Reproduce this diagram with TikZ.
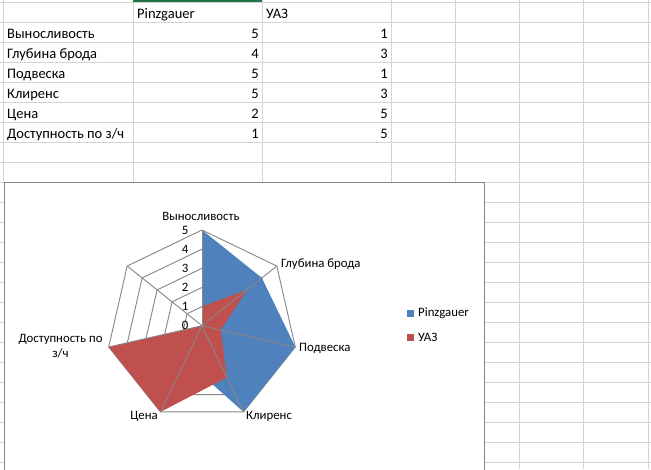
\documentclass[tikz,border=0pt]{standalone}
\usepackage{fontspec}
\setmainfont{Carlito}
\definecolor{gridgray}{RGB}{212,212,212}
\definecolor{axgray}{RGB}{134,134,134}
\definecolor{xlgreen}{RGB}{33,115,70}
\definecolor{pinz}{RGB}{79,129,189}
\definecolor{uaz}{RGB}{192,80,77}
\begin{document}
\begin{tikzpicture}[x=1pt,y=-1pt,
	sheet/.style={draw=gridgray,line width=0.8pt},
	cell/.style={inner sep=0pt,font=\fontsize{14.5}{17}\selectfont},
	lbl/.style={inner sep=0pt,font=\fontsize{12.8}{15}\selectfont},
	ax/.style={draw=axgray,line width=0.9pt}]
		\useasboundingbox (0,0) rectangle (651,469);
		\fill[white] (0,0) rectangle (651,469);
		%sheet grid
		\foreach \y in {2,22,...,182} \draw[sheet] (0,\y) -- (651,\y);
		\foreach \y in {202,222,...,462} {\draw[sheet] (0,\y) -- (4,\y); \draw[sheet] (484,\y) -- (651,\y);}
		\foreach \x in {3,133,262,391,455} \draw[sheet] (\x,0) -- (\x,182);
		\foreach \x in {519,583,648} \draw[sheet] (\x,0) -- (\x,469);
		\draw[xlgreen,line width=2pt] (133,1) -- (262,1);
		%table
		\node[cell,anchor=base west] (hp) at (137,18) {Pinzgauer};
		\node[cell,anchor=base west] (hu) at (266,18) {УАЗ};
		\foreach \name/\p/\u [count=\i] in {Выносливость/5/1,Глубина брода/4/3,Подвеска/5/1,Клиренс/5/3,Цена/2/5,{Доступность по з/ч}/1/5} {
			\node[cell,anchor=base west] (r\i) at (7,18+20*\i) {\name};
			\node[cell,anchor=base east] (p\i) at (259,18+20*\i) {\p};
			\node[cell,anchor=base east] (u\i) at (388,18+20*\i) {\u};
		}
		%chart
		\draw[axgray,fill=white,line width=0.8pt] (4,182) rectangle (484,480);
		\begin{scope}[shift={(202,325.7)},x=19.14pt,y=19.14pt]
		\foreach \l in {1,...,5} \draw[ax] (90:\l) \foreach \k in {1,...,6} {-- ({90-\k*360/7}:\l)} -- cycle;
		\fill[pinz] (90:5) \foreach \v [count=\k] in {4,5,5,2,1,0} {-- ({90-\k*360/7}:\v)} -- cycle;
		\fill[uaz] (90:1) \foreach \v [count=\k] in {3,1,3,5,5,0} {-- ({90-\k*360/7}:\v)} -- cycle;
		\foreach \k in {0,...,6} \draw[ax] (0,0) -- ({90-\k*360/7}:5);
		\foreach \l in {0,...,5} \node[lbl,anchor=east] (t\l) at (-0.7,\l) {\l};
		\end{scope}
		\node[lbl,anchor=base] (c1) at (201,220) {Выносливость};
		\node[lbl,anchor=base west] (c2) at (281,267) {Глубина брода};
		\node[lbl,anchor=base west] (c3) at (299,351) {Подвеска};
		\node[lbl,anchor=base west] (c4) at (246,419) {Клиренс};
		\node[lbl,anchor=base east] (c5) at (158,419) {Цена};
		\node[lbl,anchor=base,align=center] (c6) at (60.5,357.5) {Доступность по\\з/ч};
		%legend
		\fill[pinz] (407,309.5) rectangle (414,316.5);
		\node[lbl,anchor=west] (lp) at (418,313) {Pinzgauer};
		\fill[uaz] (407,333.5) rectangle (414,340.5);
		\node[lbl,anchor=west] (lu) at (418,337) {УАЗ};
		\end{tikzpicture}
\end{document}
